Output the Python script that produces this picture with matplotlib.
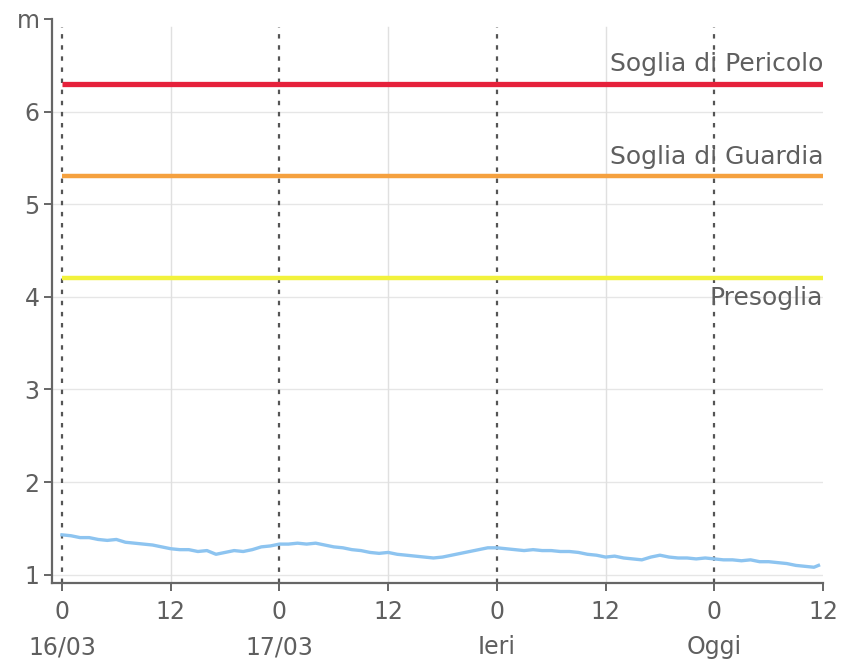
import matplotlib
matplotlib.use("Agg")
import matplotlib.pyplot as plt
import numpy as np

# --- data ---
hours = list(range(0, 84)) + [83.5]
level = [1.43, 1.42, 1.40, 1.40, 1.38, 1.37, 1.38, 1.35, 1.34, 1.33, 1.32, 1.30,
         1.28, 1.27, 1.27, 1.25, 1.26, 1.22, 1.24, 1.26, 1.25, 1.27, 1.30, 1.31,
         1.33, 1.33, 1.34, 1.33, 1.34, 1.32, 1.30, 1.29, 1.27, 1.26, 1.24, 1.23,
         1.24, 1.22, 1.21, 1.20, 1.19, 1.18, 1.19, 1.21, 1.23, 1.25, 1.27, 1.29,
         1.29, 1.28, 1.27, 1.26, 1.27, 1.26, 1.26, 1.25, 1.25, 1.24, 1.22, 1.21,
         1.19, 1.20, 1.18, 1.17, 1.16, 1.19, 1.21, 1.19, 1.18, 1.18, 1.17, 1.18,
         1.17, 1.16, 1.16, 1.15, 1.16, 1.14, 1.14, 1.13, 1.12, 1.10, 1.09, 1.08,
         1.10]
thresholds = [6.3, 5.3, 4.2]
threshold_labels = ["Soglia di Pericolo", "Soglia di Guardia", "Presoglia"]
threshold_colors = ["#e6213b", "#f5a13f", "#f2f23c"]
x_ticks = [0, 12, 24, 36, 48, 60, 72, 84]
x_tick_labels = ["0\n16/03", "12", "0\n17/03", "12", "0\nIeri", "12", "0\nOggi", "12"]
y_ticks = [1, 2, 3, 4, 5, 6, 7]
y_tick_labels = ["1", "2", "3", "4", "5", "6", "m"]
day_starts = [0, 24, 48, 72]
half_days = [12, 36, 60]

fig = plt.figure(figsize=(8.43, 6.64), dpi=100)
ax = fig.add_axes([0.0617, 0.122, 0.9146, 0.8494])

ax.set_xlim(-1.1, 84)
ax.set_ylim(0.91, 7.0)

# grid
for y in [1, 2, 3, 4, 5, 6]:
    ax.axhline(y, color="#e6e6e6", lw=1.0, zorder=0)
for x in half_days:
    ax.axvline(x, ymax=0.985, color="#e0e0e0", lw=1.0, zorder=0)
for x in day_starts:
    ax.axvline(x, ymax=0.985, color="#555555", lw=1.6, ls=(0, (2, 3)), zorder=1)

# thresholds
widths = [3.8, 3.2, 3.2]
for val, lab, col, w in zip(thresholds, threshold_labels, threshold_colors, widths):
    ax.hlines(val, 0, 84, color=col, lw=w, zorder=2)
offsets = [0.21, 0.21, -0.21]
for val, lab, off in zip(thresholds, threshold_labels, offsets):
    ax.text(84, val + off, lab, ha="right", va="center", fontsize=18,
            color="#5f5f5f", zorder=3)

# water level
ax.plot(hours, level, color="#8dc4f0", lw=2.4, zorder=4)

ax.set_xticks(x_ticks)
ax.set_xticklabels(x_tick_labels)
ax.set_yticks(y_ticks)
ax.set_yticklabels(y_tick_labels)

for s in ["top", "right"]:
    ax.spines[s].set_visible(False)
for s in ["left", "bottom"]:
    ax.spines[s].set_color("#666666")
    ax.spines[s].set_linewidth(1.6)

ax.tick_params(axis="both", colors="#666666", labelcolor="#5f5f5f",
               labelsize=17, length=6, width=1.4, direction="out")
ax.tick_params(axis="x", pad=6)
ax.tick_params(axis="y", pad=3)
for t in ax.get_xticklabels():
    t.set_linespacing(1.6)

fig.savefig("out.png", dpi=100)
